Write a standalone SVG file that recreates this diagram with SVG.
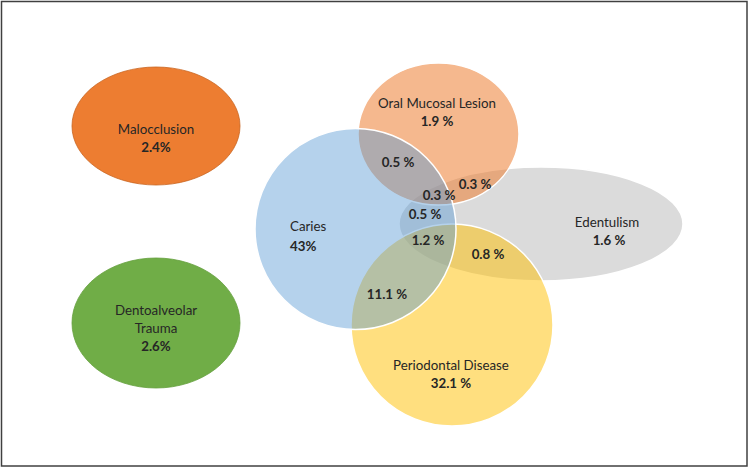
<svg xmlns="http://www.w3.org/2000/svg" width="750" height="469" viewBox="0 0 750 469">
<style>
text{font-family:Lato,"Open Sans","Liberation Sans",sans-serif;font-size:13.3px;fill:#262626;text-anchor:middle}
.num{font-weight:bold}
.ven{stroke:#ffffff;stroke-width:1.5}
</style>
<rect x="0" y="0" width="750" height="469" fill="#ffffff"/>
<rect x="1.5" y="1.5" width="745.5" height="464.5" fill="none" stroke="#404040" stroke-width="1.5"/>
<g id="malocclusion">
<ellipse cx="156" cy="126" rx="84" ry="59" fill="#ED7D31" stroke="#C9651F" stroke-width="0.8"/>
<text x="156" y="134">Malocclusion</text>
<text x="156" y="152" class="num">2.4%</text>
</g>
<g id="dentoalveolar-trauma">
<ellipse cx="156" cy="323" rx="84" ry="65" fill="#70AD47" stroke="#65A03E" stroke-width="0.8"/>
<text x="156" y="315">Dentoalveolar</text>
<text x="156" y="333">Trauma</text>
<text x="156" y="351" class="num">2.6%</text>
</g>
<g id="edentulism">
<ellipse class="ven" cx="541" cy="224" rx="142" ry="57" fill="#A5A5A5" fill-opacity="0.4"/>
</g>
<g id="oral-mucosal-lesion">
<ellipse class="ven" cx="438.5" cy="134" rx="80.5" ry="71" fill="#ED7D31" fill-opacity="0.55"/>
</g>
<g id="periodontal-disease">
<circle class="ven" cx="452" cy="325" r="101" fill="#FFC000" fill-opacity="0.5"/>
</g>
<g id="caries">
<circle class="ven" cx="355.5" cy="229" r="100.5" fill="#5B9BD5" fill-opacity="0.45"/>
</g>
<g id="labels">
<text x="437" y="108">Oral Mucosal Lesion</text>
<text x="437" y="126" class="num">1.9 %</text>
<text x="290" y="231" style="text-anchor:start">Caries</text>
<text x="290" y="251" class="num" style="text-anchor:start">43%</text>
<text x="607" y="227">Edentulism</text>
<text x="609" y="245" class="num">1.6 %</text>
<text x="451" y="370">Periodontal Disease</text>
<text x="451" y="388" class="num">32.1 %</text>
</g>
<g id="overlap-labels">
<text x="398" y="167" class="num">0.5 %</text>
<text x="475" y="189" class="num">0.3 %</text>
<text x="439" y="200" class="num">0.3 %</text>
<text x="425" y="219" class="num">0.5 %</text>
<text x="428" y="245" class="num">1.2 %</text>
<text x="488" y="259" class="num">0.8 %</text>
<text x="387" y="299" class="num">11.1 %</text>
</g>
</svg>
